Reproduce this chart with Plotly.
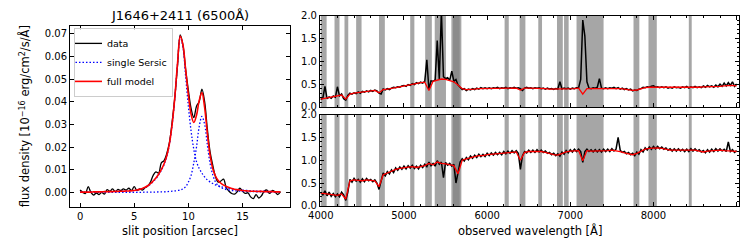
import plotly.graph_objects as go

# ---------------- left panel data ----------------
slit_pos = [i * 0.25 for i in range(75)]  # 0 .. 18.5 arcsec
slit_data = [
    0.0010, 0.0000, -0.0005, 0.0025, 0.0000, -0.0012, -0.0003, -0.0010,
    0.0000, -0.0008, 0.0012, 0.0005, 0.0015, 0.0003, 0.0013, 0.0008,
    0.0015, 0.0010, 0.0018, 0.0008, 0.0025, 0.0008, 0.0015, 0.0010,
    0.0020, 0.0028, 0.0045, 0.0075, 0.0090, 0.0085, 0.0130, 0.0140,
    0.0170, 0.0220, 0.0310, 0.0420, 0.0560, 0.0695, 0.0650, 0.0540,
    0.0450, 0.0370, 0.0330, 0.0380, 0.0400, 0.0455, 0.0400, 0.0280,
    0.0180, 0.0120, 0.0070, 0.0045, 0.0050, 0.0058, 0.0020, 0.0005,
    -0.0005, -0.0008, 0.0002, 0.0018, 0.0005, -0.0005, -0.0002, -0.0020,
    -0.0028, -0.0010, -0.0025, -0.0015, 0.0005, 0.0010, -0.0005, 0.0008,
    0.0002, -0.0010, 0.0003,
]
slit_full = [
    0.0001, 0.0001, 0.0001, 0.0001, 0.0001, 0.0002, 0.0002, 0.0002,
    0.0002, 0.0003, 0.0003, 0.0003, 0.0003, 0.0004, 0.0004, 0.0005,
    0.0005, 0.0006, 0.0006, 0.0007, 0.0008, 0.0010, 0.0013, 0.0017,
    0.0022, 0.0029, 0.0038, 0.0050, 0.0063, 0.0080, 0.0100, 0.0125,
    0.0160, 0.0215, 0.0300, 0.0420, 0.0570, 0.0688, 0.0650, 0.0540,
    0.0430, 0.0345, 0.0308, 0.0340, 0.0405, 0.0440, 0.0375, 0.0260,
    0.0165, 0.0105, 0.0072, 0.0052, 0.0040, 0.0032, 0.0026, 0.0021,
    0.0017, 0.0014, 0.0012, 0.0010, 0.0008, 0.0007, 0.0006, 0.0005,
    0.0005, 0.0004, 0.0004, 0.0004, 0.0003, 0.0003, 0.0003, 0.0003,
    0.0002, 0.0002, 0.0002,
]
slit_comp1 = [
    0.0001, 0.0001, 0.0001, 0.0001, 0.0001, 0.0002, 0.0002, 0.0002,
    0.0002, 0.0003, 0.0003, 0.0003, 0.0003, 0.0004, 0.0004, 0.0005,
    0.0005, 0.0006, 0.0006, 0.0007, 0.0008, 0.0010, 0.0013, 0.0016,
    0.0021, 0.0028, 0.0036, 0.0047, 0.0060, 0.0077, 0.0097, 0.0122,
    0.0158, 0.0212, 0.0298, 0.0418, 0.0568, 0.0686, 0.0640, 0.0510,
    0.0380, 0.0270, 0.0190, 0.0135, 0.0105, 0.0085, 0.0068, 0.0055,
    0.0046, 0.0039, 0.0033, 0.0029, 0.0025, 0.0022, 0.0019, 0.0017,
    0.0015, 0.0013, 0.0012, 0.0011, 0.0010, 0.0009, 0.0008, 0.0007,
    0.0006, 0.0006, 0.0005, 0.0005, 0.0005, 0.0004, 0.0004, 0.0004,
    0.0003, 0.0003, 0.0003,
]
slit_comp2 = [
    0.0000, 0.0000, 0.0000, 0.0000, 0.0000, 0.0000, 0.0000, 0.0000,
    0.0000, 0.0000, 0.0000, 0.0000, 0.0000, 0.0000, 0.0000, 0.0000,
    0.0000, 0.0000, 0.0000, 0.0000, 0.0000, 0.0000, 0.0000, 0.0000,
    0.0001, 0.0001, 0.0001, 0.0001, 0.0001, 0.0002, 0.0002, 0.0002,
    0.0003, 0.0004, 0.0005, 0.0006, 0.0008, 0.0010, 0.0015, 0.0025,
    0.0045, 0.0075, 0.0130, 0.0200, 0.0290, 0.0335, 0.0300, 0.0210,
    0.0128, 0.0078, 0.0046, 0.0030, 0.0021, 0.0016, 0.0012, 0.0010,
    0.0008, 0.0007, 0.0006, 0.0005, 0.0004, 0.0004, 0.0003, 0.0003,
    0.0003, 0.0002, 0.0002, 0.0002, 0.0002, 0.0002, 0.0001, 0.0001,
    0.0001, 0.0001, 0.0001,
]

# ---------------- right panels data ----------------
wave_model = list(range(4000, 9001, 50))
wave_data = list(range(4000, 9001, 25))

top_model = [
    0.17, 0.19, 0.20, 0.22, 0.24, 0.26, 0.17, 0.28, 0.30, 0.31,
    0.33, 0.34, 0.35, 0.36, 0.31, 0.38, 0.39, 0.40, 0.42, 0.44,
    0.46, 0.48, 0.50, 0.52, 0.53, 0.54, 0.36, 0.56, 0.58, 0.61,
    0.60, 0.58, 0.55, 0.48, 0.40, 0.38, 0.38, 0.39, 0.40, 0.40,
    0.40, 0.41, 0.41, 0.41, 0.41, 0.41, 0.41, 0.41, 0.37, 0.41,
    0.41, 0.41, 0.41, 0.40, 0.40, 0.39, 0.39, 0.40, 0.40, 0.40,
    0.40, 0.40, 0.41, 0.28, 0.40, 0.40, 0.41, 0.40, 0.41, 0.41,
    0.41, 0.41, 0.40, 0.39, 0.38, 0.36, 0.37, 0.40, 0.42, 0.43,
    0.43, 0.43, 0.43, 0.42, 0.42, 0.42, 0.42, 0.42, 0.43, 0.43,
    0.43, 0.43, 0.44, 0.44, 0.44, 0.44, 0.45, 0.46, 0.47, 0.47,
    0.46,
]
top_data = [
    0.16, 0.20, 0.45, 0.18, 0.22, 0.19, 0.24, 0.21,
    0.44, 0.24, 0.28, 0.18, 0.15, 0.25, 0.30, 0.28,
    0.31, 0.29, 0.33, 0.30, 0.34, 0.32, 0.35, 0.33,
    0.36, 0.34, 0.37, 0.35, 0.30, 0.28, 0.39, 0.37,
    0.40, 0.38, 0.41, 0.43, 0.42, 0.44, 0.43, 0.46,
    0.47, 0.45, 0.49, 0.47, 0.51, 0.49, 0.53, 0.51,
    0.54, 0.52, 0.56, 1.03, 0.38, 0.57, 0.56, 0.59,
    1.45, 0.60, 2.10, 0.66, 0.62, 0.64, 0.58, 0.78,
    0.56, 0.60, 0.48, 0.42, 0.38, 0.40, 0.36, 0.39,
    0.37, 0.40, 0.38, 0.41, 0.39, 0.42, 0.40, 0.42,
    0.40, 0.42, 0.40, 0.42, 0.41, 0.43, 0.40, 0.42,
    0.41, 0.43, 0.40, 0.42, 0.41, 0.43, 0.41, 0.42,
    0.40, 0.36, 0.41, 0.43, 0.41, 0.42, 0.40, 0.42,
    0.41, 0.42, 0.40, 0.41, 0.39, 0.41, 0.39, 0.40,
    0.38, 0.40, 0.39, 0.55, 0.39, 0.41, 0.40, 0.41,
    0.39, 0.41, 0.40, 0.42, 0.42, 0.60, 1.90, 1.55,
    0.55, 0.41, 0.40, 0.42, 0.41, 0.43, 0.62, 0.41,
    0.40, 0.42, 0.40, 0.42, 0.41, 0.43, 0.40, 0.42,
    0.39, 0.41, 0.38, 0.40, 0.37, 0.39, 0.35, 0.37,
    0.36, 0.39, 0.40, 0.43, 0.42, 0.44, 0.43, 0.45,
    0.46, 0.43, 0.44, 0.42, 0.44, 0.42, 0.44, 0.41,
    0.43, 0.41, 0.44, 0.42, 0.43, 0.41, 0.44, 0.42,
    0.45, 0.41, 0.44, 0.42, 0.45, 0.42, 0.44, 0.42,
    0.46, 0.43, 0.47, 0.44, 0.46, 0.43, 0.48, 0.44,
    0.50, 0.45, 0.52, 0.46, 0.53, 0.47, 0.55, 0.45,
    0.50,
]
bot_model = [
    0.28, 0.27, 0.26, 0.24, 0.23, 0.26, 0.15, 0.55, 0.57, 0.56,
    0.55, 0.57, 0.56, 0.55, 0.42, 0.68, 0.72, 0.76, 0.80, 0.82,
    0.84, 0.85, 0.86, 0.84, 0.86, 0.88, 0.93, 0.90, 0.96, 0.93,
    0.92, 0.90, 0.88, 0.70, 1.00, 1.03, 1.06, 1.08, 1.10, 1.10,
    1.12, 1.13, 1.14, 1.14, 1.16, 1.17, 1.18, 1.18, 1.00, 1.17,
    1.19, 1.19, 1.20, 1.19, 1.17, 1.14, 1.12, 1.11, 1.15, 1.18,
    1.20, 1.21, 1.21, 0.99, 1.21, 1.20, 1.20, 1.20, 1.21, 1.21,
    1.22, 1.21, 1.19, 1.16, 1.14, 1.12, 1.15, 1.20, 1.24, 1.26,
    1.27, 1.27, 1.26, 1.24, 1.22, 1.22, 1.22, 1.21, 1.21, 1.22,
    1.22, 1.20, 1.18, 1.20, 1.21, 1.22, 1.22, 1.21, 1.21, 1.20,
    1.19,
]
bot_data = [
    0.30, 0.24, 0.33, 0.22, 0.30, 0.21, 0.27, 0.20,
    0.26, 0.20, 0.30, 0.24, 0.12, 0.30, 0.58, 0.52,
    0.60, 0.54, 0.58, 0.52, 0.59, 0.53, 0.60, 0.55,
    0.58, 0.53, 0.57, 0.50, 0.36, 0.55, 0.72, 0.66,
    0.75, 0.70, 0.79, 0.73, 0.83, 0.78, 0.85, 0.80,
    0.87, 0.81, 0.88, 0.83, 0.89, 0.82, 0.87, 0.81,
    0.89, 0.84, 0.91, 0.86, 0.96, 0.88, 0.93, 0.87,
    0.99, 0.91, 0.96, 0.62, 0.95, 0.89, 0.93, 0.87,
    0.91, 0.50, 0.72, 0.96, 1.03, 0.98, 1.06, 1.01,
    1.09, 1.04, 1.11, 1.06, 1.13, 1.08, 1.13, 1.08,
    1.15, 1.10, 1.16, 1.11, 1.17, 1.12, 1.17, 1.12,
    1.19, 1.14, 1.20, 1.15, 1.21, 1.16, 1.21, 1.15,
    0.80, 1.10, 1.19, 1.16, 1.22, 1.17, 1.22, 1.17,
    1.23, 1.18, 1.22, 1.17, 1.20, 1.15, 1.17, 1.12,
    1.15, 1.10, 1.14, 1.09, 1.18, 1.13, 1.21, 1.16,
    1.23, 1.18, 1.24, 1.19, 1.24, 1.19, 0.95, 1.19,
    1.24, 1.19, 1.23, 1.18, 1.23, 1.18, 1.23, 1.18,
    1.24, 1.19, 1.24, 1.19, 1.25, 1.20, 1.24, 1.50,
    1.22, 1.17, 1.19, 1.14, 1.17, 1.12, 1.15, 1.10,
    1.18, 1.13, 1.23, 1.18, 1.27, 1.22, 1.29, 1.24,
    1.30, 1.25, 1.30, 1.25, 1.29, 1.24, 1.27, 1.22,
    1.25, 1.20, 1.25, 1.20, 1.25, 1.20, 1.24, 1.19,
    1.24, 1.19, 1.25, 1.20, 1.25, 1.20, 1.23, 1.18,
    1.21, 1.16, 1.23, 1.18, 1.24, 1.19, 1.25, 1.20,
    1.25, 1.20, 1.24, 1.19, 1.40, 1.19, 1.23, 1.17,
    1.21,
]

# masked wavelength regions (grey bands)
band_starts = [4000, 4165, 4285, 4425, 4700, 5075, 5255, 5370, 5570, 5590,
               6210, 6390, 6615, 6840, 6925, 7075, 7760, 7940, 8425]
band_ends = [4070, 4225, 4330, 4490, 4770, 5125, 5335, 5505, 5670, 5690,
             6260, 6460, 6660, 6910, 6980, 7400, 7830, 8040, 8460]

W, H = 747, 249
FONT = "DejaVu Sans"

fig = go.Figure()

# left panel
fig.add_trace(go.Scatter(x=slit_pos, y=slit_data, mode="lines", name="data",
                         line=dict(color="black", width=1.3, shape="spline"),
                         xaxis="x", yaxis="y"))
fig.add_trace(go.Scatter(x=slit_pos, y=slit_comp1, mode="lines", name="single Sersic",
                         line=dict(color="blue", width=1.3, dash="1.5px,2px", shape="spline"),
                         xaxis="x", yaxis="y"))
fig.add_trace(go.Scatter(x=slit_pos, y=slit_comp2, mode="lines", showlegend=False,
                         line=dict(color="blue", width=1.3, dash="1.5px,2px", shape="spline"),
                         xaxis="x", yaxis="y"))
fig.add_trace(go.Scatter(x=slit_pos, y=slit_full, mode="lines", name="full model",
                         line=dict(color="red", width=1.6, shape="spline"),
                         xaxis="x", yaxis="y"))

# right panels
fig.add_trace(go.Scatter(x=wave_data, y=top_data, mode="lines", showlegend=False,
                         line=dict(color="black", width=1.5), xaxis="x2", yaxis="y2"))
fig.add_trace(go.Scatter(x=wave_model, y=top_model, mode="lines", showlegend=False,
                         line=dict(color="red", width=1.3), xaxis="x2", yaxis="y2"))
fig.add_trace(go.Scatter(x=wave_data, y=bot_data, mode="lines", showlegend=False,
                         line=dict(color="black", width=1.5), xaxis="x3", yaxis="y3"))
fig.add_trace(go.Scatter(x=wave_model, y=bot_model, mode="lines", showlegend=False,
                         line=dict(color="red", width=1.3), xaxis="x3", yaxis="y3"))

shapes = []
for xa, ya in (("x2", "y2"), ("x3", "y3")):
    for s, e in zip(band_starts, band_ends):
        shapes.append(dict(type="rect", xref=xa, yref=ya + " domain", x0=s, x1=e,
                           y0=0, y1=1, fillcolor="gray", opacity=0.7,
                           line=dict(width=0), layer="below"))

axis_common = dict(showline=True, linecolor="black", linewidth=1, mirror="ticks",
                   ticks="inside", ticklen=4, tickcolor="black", showgrid=False,
                   zeroline=False, tickfont=dict(family=FONT, size=10, color="black"))


def px_x(a, b):
    return [a / W, b / W]


def px_y(top, bottom):
    return [1 - bottom / H, 1 - top / H]


LX0, LX1 = 59, 283
fig.update_layout(
    width=W, height=H,
    margin=dict(l=0, r=0, t=0, b=0),
    paper_bgcolor="white", plot_bgcolor="white",
    font=dict(family=FONT, size=10, color="black"),
    showlegend=True,
    legend=dict(x=63 / W, y=1 - 23 / H, xanchor="left", yanchor="top",
                bgcolor="rgba(255,255,255,0.8)", bordercolor="#cccccc", borderwidth=1,
                font=dict(family=FONT, size=9.5), itemwidth=30, tracegroupgap=0,
                indentation=-8),
    xaxis=dict(domain=px_x(LX0, LX1), range=[-0.925, 19.425], anchor="y",
               tickvals=[0, 5, 10, 15], **axis_common),
    yaxis=dict(domain=px_y(21, 211), range=[-0.0064, 0.0734], anchor="x",
               dtick=0.01, tick0=0, tickformat=".2f", **axis_common),
    xaxis2=dict(domain=px_x(313, 739), range=[3990, 9030], anchor="y2",
                dtick=1000, tick0=4000, showticklabels=False,
                minor=dict(ticks="inside", ticklen=2, dtick=200, tick0=4000, tickcolor="black"),
                **axis_common),
    yaxis2=dict(domain=px_y(10, 106), range=[0, 2.0], anchor="x2",
                dtick=0.5, tick0=0, tickformat=".1f",
                minor=dict(ticks="inside", ticklen=2, dtick=0.1, tickcolor="black"),
                **axis_common),
    xaxis3=dict(domain=px_x(313, 739), range=[3990, 9030], anchor="y3",
                dtick=1000, tick0=4000,
                minor=dict(ticks="inside", ticklen=2, dtick=200, tick0=4000, tickcolor="black"),
                **axis_common),
    yaxis3=dict(domain=px_y(114, 210), range=[0, 2.0], anchor="x3",
                dtick=0.5, tick0=0, tickformat=".1f",
                minor=dict(ticks="inside", ticklen=2, dtick=0.1, tickcolor="black"),
                **axis_common),
    shapes=shapes,
    annotations=[
        dict(text="J1646+2411 (6500Å)", x=(LX0 + LX1) / 2 / W, y=1 - 10 / H,
             xref="paper", yref="paper",
             showarrow=False, xanchor="center", yanchor="middle",
             font=dict(family=FONT, size=13, color="black")),
        dict(text="flux density [10<sup>−16</sup> erg/cm<sup>2</sup>/s/Å]",
             x=13 / W, y=1 - 116 / H, xref="paper", yref="paper", textangle=-90,
             showarrow=False, xanchor="center", yanchor="middle",
             font=dict(family=FONT, size=11.5, color="black")),
        dict(text="slit position [arcsec]", x=(LX0 + LX1) / 2 / W, y=1 - 236 / H,
             xref="paper", yref="paper", showarrow=False, xanchor="center",
             yanchor="middle", font=dict(family=FONT, size=11.5, color="black")),
        dict(text="observed wavelength [Å]", x=526 / W, y=1 - 236 / H, xref="paper",
             yref="paper", showarrow=False, xanchor="center", yanchor="middle",
             font=dict(family=FONT, size=11.5, color="black")),
    ],
)

# remove the browser's default page margin so the figure sits at the window origin
fig.write_html("out.html",
               config={"displayModeBar": False},
               post_script="document.body.style.margin='0px';"
                           "document.body.style.overflow='hidden';")
